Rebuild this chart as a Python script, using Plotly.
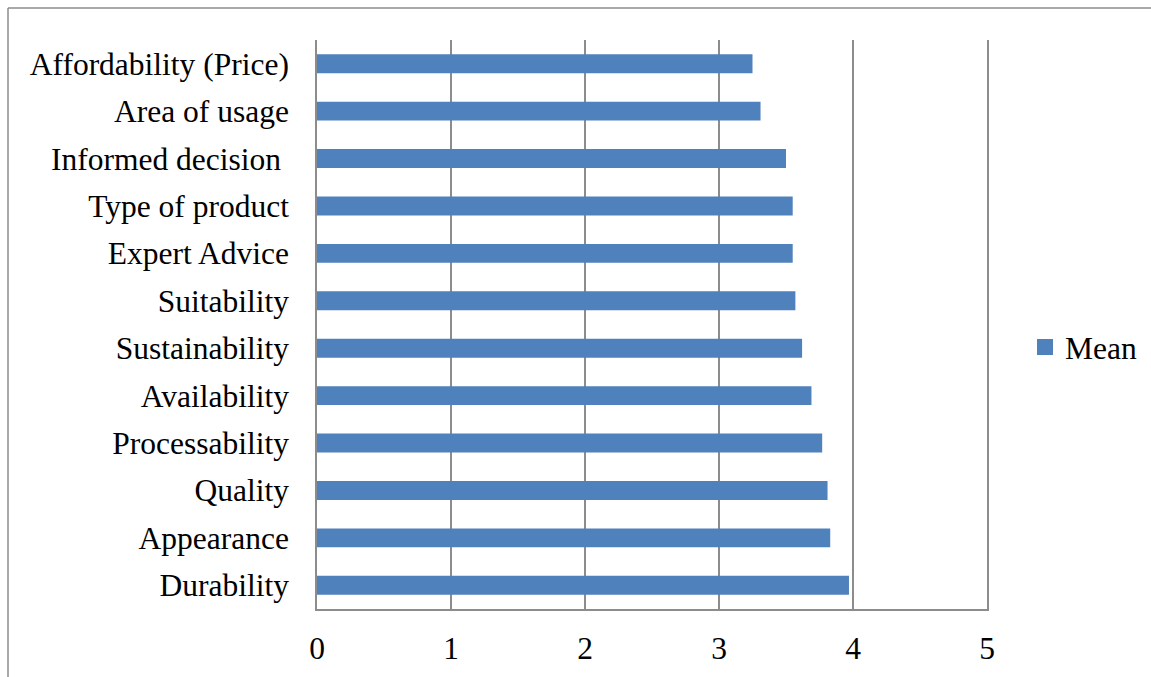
import plotly.graph_objects as go

categories = ["Affordability (Price)", "Area of usage", "Informed decision\u00a0", "Type of product",
              "Expert Advice", "Suitability", "Sustainability", "Availability",
              "Processability", "Quality", "Appearance", "Durability"]
mean_values = [3.25, 3.31, 3.50, 3.55, 3.55, 3.57, 3.62, 3.69, 3.77, 3.81, 3.83, 3.97]
x_ticks = [0, 1, 2, 3, 4, 5]
series_name = "Mean"
BAR_COLOR = "#4F81BD"

W, H = 1151, 677
L, R, T, B = 317, 987, 40, 609
FONT = dict(family="Liberation Serif, Times New Roman, serif", size=31.5, color="black")
GRID = "#8c8c8c"

fig = go.Figure()
fig.add_trace(go.Bar(
    x=mean_values, y=categories, orientation="h", name=series_name,
    marker=dict(color=BAR_COLOR, line=dict(width=0)),
    showlegend=False,
))
# legend entry with a larger square swatch
fig.add_trace(go.Scatter(
    x=[None], y=[None], mode="markers", name=series_name,
    marker=dict(symbol="square", size=17, color=BAR_COLOR),
    showlegend=True, hoverinfo="skip",
))

pw, ph = R - L, B - T
def px_x(p):
    return (p - L) / pw
def px_y(p):
    return (B - p) / ph

fig.update_layout(
    width=W, height=H,
    margin=dict(l=L, r=W - R, t=T, b=H - B, pad=0, autoexpand=False),
    paper_bgcolor="white", plot_bgcolor="white",
    font=FONT,
    bargap=0.6,
    showlegend=True,
    legend=dict(x=px_x(1025), y=px_y(347), xanchor="left", yanchor="middle",
                font=FONT, bgcolor="rgba(0,0,0,0)", borderwidth=0, itemsizing="trace"),
    xaxis=dict(range=[0, 5], tickvals=x_ticks, showgrid=True, gridcolor=GRID, gridwidth=1.5,
               showline=True, linecolor=GRID, linewidth=1.5, zeroline=False,
               ticks="", tickfont=FONT, ticklabelstandoff=10, automargin=False, fixedrange=True),
    yaxis=dict(autorange="reversed", showgrid=False, showline=True, linecolor=GRID, linewidth=1.5,
               mirror=True, ticks="", tickfont=FONT, ticklabelstandoff=20, zeroline=False,
               automargin=False),
    shapes=[
        dict(type="line", xref="paper", yref="paper", x0=px_x(8), x1=px_x(1200),
             y0=px_y(8), y1=px_y(8), line=dict(color="#8c8c8c", width=1.5)),
        dict(type="line", xref="paper", yref="paper", x0=px_x(8), x1=px_x(8),
             y0=px_y(8), y1=px_y(700), line=dict(color="#8c8c8c", width=1.5)),
    ],
)

fig.write_html("out.html")
